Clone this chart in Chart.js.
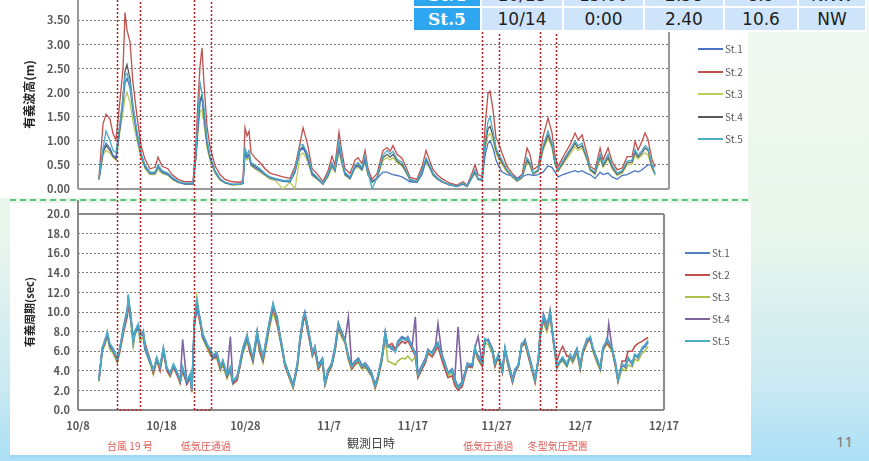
<!DOCTYPE html>
<html lang="ja">
<head>
<meta charset="utf-8">
<title>有義波高・有義周期</title>
<script src="https://cdn.jsdelivr.net/npm/chart.js@4.4.0/dist/chart.umd.min.js"></script>
<style>
  html, body { margin: 0; padding: 0; }
  body {
    width: 869px; height: 461px; position: relative; overflow: hidden;
    background: linear-gradient(180deg, #f1f9f1 0%, #e9f6ec 50%, #cdeaf2 82%, #abdff6 100%);
    font-family: 'Noto Sans CJK JP', 'Noto Sans', sans-serif;
  }
  .panel { position: absolute; background: #fff; }
  #upperPanel { left: 0; top: 0; width: 748px; height: 198px; }
  #lowerPanel { left: 10px; top: 203px; width: 741px; height: 252px; }
  #blueRule { position: absolute; left: 10px; top: 455px; width: 741px; height: 3px; background: #9fd8f5; }
  #greenRule { position: absolute; left: 10px; top: 199px; width: 738px; border-top: 2px dashed #5cc47c; }
  #upperBox { position: absolute; left: 0; top: 0; }
  #lowerBox { position: absolute; left: 0; top: 200px; }
  #tbl { position: absolute; left: 412px; top: -18px; border-collapse: separate; border-spacing: 2px; background: #fff; }
  #tbl td {
    height: 22px; padding: 0; text-align: center; line-height: 22px;
    font-family: 'DejaVu Sans', sans-serif; font-size: 17px; color: #1e1e1e; background: #cde4fa;
  }
  #tbl td.st { background: #2ea6f0; color: #fff; font-family: 'DejaVu Serif', serif; font-weight: bold; }
  .leg-line, .leg-text { position: absolute; }
  .leg-text { font-size: 10px; color: #595959; line-height: 12px; }
  #pageNo { position: absolute; left: 836px; top: 431px; font-family: 'Noto Sans', sans-serif; font-size: 15px; color: #7b7b7b; }
</style>
</head>
<body>
<div class="panel" id="upperPanel"></div>
<div class="panel" id="lowerPanel"></div>
<div id="greenRule"></div>
<div id="blueRule"></div>
<div id="upperBox"><canvas id="upper" width="748" height="200"></canvas></div>
<div id="lowerBox"><canvas id="lower" width="751" height="261"></canvas></div>
<table id="tbl"></table>
<div id="legends"></div>
<div id="pageNo">11</div>

<script>
// 観測点
const stations = ['St.1', 'St.2', 'St.3', 'St.4', 'St.5'];

// x軸 (10/8 からの日数) の目盛ラベル
const xTickLabels = ['10/8', '10/18', '10/28', '11/7', '11/17', '11/27', '12/7', '12/17'];
const upperYTicks = [0, 0.5, 1, 1.5, 2, 2.5, 3, 3.5];
const lowerYTicks = [0, 2, 4, 6, 8, 10, 12, 14, 16, 18, 20];

// 気象イベント (日数)
const eventStart = [4.66, 13.86, 48.27, 55.2];
const eventEnd = [7.41, 15.89, 50.3, 57.1];
const eventLabels = ['台風 19 号', '低気圧通過', '低気圧通過', '冬型気圧配置'];
const eventLabelDays = [6.2, 15.3, 49.0, 57.3];

// 最大値の表 (上端の2行)
const tableRows = [
    ['St.4', '10/13', '15:00', '2.58', '8.9', 'NNW'],
    ['St.5', '10/14', '0:00', '2.40', '10.6', 'NW']
];

// 有義波高 (m)
const waveDays = [
    2.51, 2.99, 3.35, 3.82, 4.18, 4.54, 5.02, 5.38, 5.62, 5.85,
    6.21, 6.57, 7.05, 7.53, 8.00, 8.60, 9.20, 9.56, 10.04, 10.75,
    11.23, 11.95, 12.78, 13.74, 14.10, 14.34, 14.58, 14.81, 15.05, 15.41,
    15.77, 16.37, 16.97, 17.56, 18.40, 19.35, 19.71, 19.95, 20.19, 20.43,
    20.67, 21.27, 21.74, 22.34, 22.94, 23.54, 24.49, 25.33, 25.93, 26.52,
    26.88, 27.24, 27.48, 27.96, 28.55, 29.27, 29.87, 30.35, 30.70, 31.18,
    31.54, 31.90, 32.50, 33.09, 33.45, 33.93, 34.29, 34.65, 35.13, 35.72,
    36.44, 36.92, 37.28, 37.63, 38.11, 38.71, 39.19, 39.67, 40.50, 41.10,
    41.58, 41.94, 42.41, 43.01, 43.61, 44.44, 45.28, 46.00, 46.48, 47.07,
    47.43, 47.79, 48.27, 48.63, 48.98, 49.22, 49.58, 49.94, 50.18, 50.66,
    51.25, 51.85, 52.45, 53.05, 53.64, 54.00, 54.36, 54.96, 55.56, 56.15,
    56.63, 56.99, 57.35, 57.95, 58.78, 59.38, 59.74, 60.22, 60.81, 61.17,
    61.77, 62.37, 62.72, 63.32, 63.80, 64.40, 64.99, 65.59, 66.19, 66.55,
    66.91, 67.38, 67.74, 68.10, 68.58, 68.94
];
const heightSt1 = [
    0.2, 0.8, 0.95, 0.85, 0.7, 0.65, 1.3, 1.8, 2.2, 2.3,
    2.1, 1.6, 1.1, 0.7, 0.45, 0.32, 0.32, 0.45, 0.35, 0.3,
    0.22, 0.14, 0.1, 0.1, 0.7, 1.3, 1.8, 1.9, 1.5, 0.95,
    0.65, 0.35, 0.2, 0.13, 0.09, 0.1, 0.12, 0.75, 0.65, 0.7,
    0.5, 0.42, 0.38, 0.3, 0.23, 0.2, 0.16, 0.15, 0.35, 0.8,
    0.85, 0.72, 0.6, 0.3, 0.22, 0.1, 0.28, 0.5, 0.38, 0.85,
    0.55, 0.3, 0.22, 0.45, 0.48, 0.4, 0.6, 0.3, 0.15, 0.22,
    0.35, 0.35, 0.32, 0.3, 0.28, 0.25, 0.2, 0.15, 0.14, 0.3,
    0.6, 0.48, 0.3, 0.2, 0.14, 0.08, 0.05, 0.1, 0.05, 0.25,
    0.35, 0.2, 0.18, 0.7, 0.95, 1.0, 0.85, 0.6, 0.5, 0.35,
    0.3, 0.28, 0.22, 0.25, 0.3, 0.3, 0.28, 0.3, 0.35, 0.48,
    0.45, 0.35, 0.25, 0.3, 0.35, 0.38, 0.35, 0.38, 0.32, 0.3,
    0.22, 0.35, 0.3, 0.33, 0.25, 0.2, 0.28, 0.3, 0.35, 0.38,
    0.35, 0.4, 0.45, 0.5, 0.5, 0.45
];
const heightSt2 = [
    0.25, 1.35, 1.55, 1.45, 1.15, 1.02, 1.85, 2.5, 3.66, 3.3,
    3.05, 2.2, 1.5, 0.9, 0.62, 0.42, 0.45, 0.66, 0.47, 0.42,
    0.3, 0.2, 0.15, 0.15, 1.0, 1.85, 2.55, 2.93, 2.2, 1.3,
    0.88, 0.48, 0.3, 0.2, 0.15, 0.14, 0.18, 1.27, 1.1, 1.2,
    0.75, 0.62, 0.55, 0.42, 0.33, 0.3, 0.25, 0.22, 0.47, 0.95,
    1.27, 1.05, 0.88, 0.42, 0.32, 0.16, 0.38, 0.68, 0.5, 1.18,
    0.75, 0.42, 0.32, 0.6, 0.65, 0.52, 0.8, 0.42, 0.2, 0.32,
    0.8, 0.86, 0.78, 0.9, 0.72, 0.64, 0.45, 0.24, 0.2, 0.47,
    0.8, 0.62, 0.4, 0.28, 0.2, 0.12, 0.08, 0.15, 0.08, 0.33,
    0.5, 0.3, 0.26, 1.3, 1.98, 2.03, 1.64, 1.05, 0.98, 0.74,
    0.47, 0.33, 0.22, 0.3, 0.85, 0.71, 0.4, 0.47, 1.09, 1.47,
    1.16, 0.67, 0.47, 0.67, 0.92, 1.16, 1.02, 1.12, 0.74, 0.47,
    0.4, 0.85, 0.6, 0.85, 0.57, 0.4, 0.43, 0.67, 0.67, 0.99,
    0.81, 0.99, 1.16, 1.02, 0.6, 0.47
];
const heightSt3 = [
    0.2, 0.7, 0.8, 0.75, 0.65, 0.6, 1.2, 1.6, 1.9, 2.0,
    1.8, 1.4, 1.0, 0.65, 0.42, 0.3, 0.3, 0.4, 0.32, 0.28,
    0.2, 0.13, 0.1, 0.1, 0.65, 1.2, 1.6, 1.65, 1.35, 0.85,
    0.6, 0.33, 0.18, 0.12, 0.08, 0.09, 0.11, 0.7, 0.6, 0.65,
    0.48, 0.4, 0.35, 0.28, 0.2, 0.18, 0, 0.14, 0, 0.7,
    0.75, 0.65, 0.55, 0.28, 0.2, 0.1, 0.25, 0.45, 0.35, 0.75,
    0.5, 0.28, 0.2, 0.42, 0.45, 0.38, 0.55, 0.28, 0.13, 0.2,
    0.6, 0.65, 0.6, 0.65, 0.55, 0.48, 0.34, 0.18, 0.15, 0.36,
    0.55, 0.45, 0.28, 0.19, 0.13, 0.08, 0.05, 0.1, 0.05, 0.22,
    0.32, 0.2, 0.18, 0.85, 1.1, 1.15, 1.0, 0.75, 0.65, 0.5,
    0.35, 0.25, 0.16, 0.22, 0.55, 0.48, 0.3, 0.36, 0.8, 1.05,
    0.85, 0.5, 0.36, 0.52, 0.72, 0.88, 0.8, 0.85, 0.6, 0.38,
    0.3, 0.62, 0.45, 0.62, 0.42, 0.28, 0.32, 0.5, 0.52, 0.7,
    0.62, 0.7, 0.75, 0.7, 0.42, 0.28
];
const heightSt4 = [
    0.2, 0.75, 0.9, 0.8, 0.68, 0.62, 1.3, 1.9, 2.45, 2.58,
    2.3, 1.7, 1.15, 0.72, 0.48, 0.33, 0.34, 0.48, 0.36, 0.31,
    0.23, 0.15, 0.11, 0.11, 0.7, 1.35, 1.85, 1.95, 1.55, 0.95,
    0.65, 0.36, 0.2, 0.13, 0.09, 0.1, 0.12, 0.78, 0.68, 0.72,
    0.52, 0.45, 0.4, 0.3, 0.24, 0.21, 0.17, 0.16, 0.36, 0.82,
    0.88, 0.75, 0.62, 0.32, 0.23, 0.11, 0.3, 0.52, 0.4, 0.9,
    0.58, 0.32, 0.23, 0.47, 0.5, 0.42, 0.62, 0.32, 0.15, 0.23,
    0.65, 0.72, 0.66, 0.72, 0.58, 0.5, 0.36, 0.19, 0.16, 0.38,
    0.62, 0.5, 0.32, 0.21, 0.14, 0.09, 0.06, 0.11, 0.06, 0.26,
    0.36, 0.21, 0.19, 0.9, 1.25, 1.3, 1.1, 0.8, 0.7, 0.55,
    0.38, 0.27, 0.17, 0.24, 0.6, 0.5, 0.32, 0.38, 0.85, 1.12,
    0.9, 0.52, 0.38, 0.55, 0.78, 0.95, 0.85, 0.9, 0.62, 0.4,
    0.32, 0.68, 0.48, 0.66, 0.45, 0.3, 0.35, 0.54, 0.56, 0.76,
    0.66, 0.75, 0.85, 0.8, 0.45, 0.32
];
const heightSt5 = [
    0.22, 0.85, 1.2, 1.0, 0.8, 0.75, 1.4, 1.9, 2.35, 2.4,
    2.2, 1.7, 1.2, 0.75, 0.5, 0.35, 0.35, 0.5, 0.38, 0.33,
    0.25, 0.16, 0.12, 0.12, 0.8, 1.5, 2.2, 2.0, 1.7, 1.05,
    0.7, 0.38, 0.22, 0.14, 0.1, 0.1, 0.14, 0.85, 0.72, 0.8,
    0.55, 0.48, 0.42, 0.32, 0.25, 0.22, 0.18, 0.18, 0.4, 0.9,
    0.92, 0.8, 0.7, 0.35, 0.25, 0.12, 0.32, 0.55, 0.42, 1.0,
    0.6, 0.35, 0.25, 0.5, 0.55, 0.45, 0.7, 0.35, 0, 0.25,
    0.7, 0.8, 0.72, 0.78, 0.62, 0.55, 0.38, 0.2, 0.16, 0.4,
    0.65, 0.52, 0.33, 0.22, 0.15, 0.09, 0.06, 0.12, 0.06, 0.28,
    0.4, 0.22, 0.2, 1.0, 1.4, 1.5, 1.2, 0.85, 0.75, 0.6,
    0.4, 0.28, 0.18, 0.25, 0.65, 0.55, 0.33, 0.4, 0.9, 1.2,
    0.95, 0.55, 0.4, 0.6, 0.82, 1.0, 0.9, 0.95, 0.65, 0.42,
    0.35, 0.72, 0.52, 0.72, 0.5, 0.33, 0.38, 0.58, 0.6, 0.82,
    0.7, 0.8, 0.9, 0.85, 0.5, 0.3
];

// 有義周期 (sec)
const periodDays = [
    2.5, 2.9, 3.2, 3.5, 3.8, 4.2, 4.7, 5.0, 5.4, 5.9,
    6.0, 6.3, 6.6, 6.8, 7.2, 7.4, 7.8, 8.0, 8.6, 9.0,
    9.4, 9.8, 10.2, 10.6, 11.0, 11.4, 11.8, 12.2, 12.5, 13.0,
    13.4, 13.6, 13.9, 14.2, 14.6, 14.9, 15.4, 15.8, 16.1, 16.6,
    17.0, 17.3, 17.8, 18.2, 18.5, 19.0, 19.4, 19.7, 20.2, 20.5,
    20.9, 21.4, 21.7, 22.1, 22.6, 22.9, 23.3, 23.8,
    24.4, 24.7, 25.3, 25.7, 26.2, 26.5, 26.9, 27.1, 27.5, 28.0,
    28.3, 28.7, 29.2, 29.5, 29.9, 30.3, 30.7, 31.1, 31.5, 31.9,
    32.3, 32.7, 33.1, 33.5, 33.9, 34.3, 34.6, 35.1, 35.5, 35.8,
    36.3, 36.7, 37.0, 37.5, 37.9, 38.2, 38.7, 39.1, 39.4, 39.9,
    40.3, 40.6, 41.1, 41.5, 41.8, 42.3, 42.7, 43.0, 43.5, 43.8,
    44.2, 44.7, 45.0, 45.4, 45.9, 46.5,
    47.1, 47.4, 47.8, 48.3, 48.6, 49.0, 49.5, 49.8, 50.2, 50.7,
    51.0, 51.4, 51.9, 52.2, 52.6, 53.0, 53.4, 53.8, 54.2, 54.6,
    55.0, 55.2, 55.6, 56.0, 56.4, 56.8, 57.2, 57.6, 57.9, 58.4,
    58.8, 59.1, 59.6, 60.0, 60.3, 60.8, 61.2, 61.5, 62.0, 62.4,
    62.7, 63.2, 63.4, 63.8, 64.2, 64.5, 65.0, 65.4, 65.7, 66.2,
    66.5, 66.9, 67.4, 67.7, 68.1
];
const periodSt1 = [
    3.2, 6.0, 7.2, 7.6, 6.5, 6.0, 5.4, 6.2, 8.4, 10.4,
    11.2, 9.8, 7.2, 7.8, 8.4, 7.8, 7.6, 6.2, 4.8, 4.2,
    5.0, 4.6, 6.0, 4.2, 3.9, 4.5, 3.8, 3.2, 4.2, 2.8,
    3.5, 2.2, 8.8, 10.2, 9.4, 7.5, 6.5, 6.3, 5.3, 5.6,
    4.6, 4.8, 3.5, 4.1, 2.8, 3.5, 4.8, 6.0, 7.3, 6.7,
    5.1, 7.6, 6.8, 5.2, 7.4, 9.0, 10.6, 9.5,
    6.0, 4.9, 3.5, 2.6, 4.5, 7.0, 9.2, 10.0, 8.3, 5.9,
    6.2, 4.6, 5.3, 2.9, 4.2, 4.5, 6.2, 8.6, 8.0, 7.0,
    5.6, 4.5, 5.0, 5.3, 4.6, 4.5, 4.2, 3.5, 2.6, 3.4,
    5.2, 8.0, 6.6, 6.2, 6.0, 7.0, 7.5, 7.3, 7.2, 6.5,
    5.9, 3.7, 4.6, 5.3, 6.0, 5.9, 6.6, 6.9, 5.6, 4.9,
    3.8, 4.2, 3.2, 2.4, 2.9, 4.5,
    4.5, 6.2, 5.6, 4.9, 7.1, 7.2, 6.3, 4.9, 5.5, 4.2,
    6.2, 4.9, 3.2, 4.2, 4.5, 6.6, 7.2, 5.9, 4.6, 3.2,
    5.2, 7.5, 9.8, 8.8, 9.6, 7.3, 4.6, 4.9, 5.2, 4.5,
    5.5, 5.3, 6.3, 4.6, 6.0, 7.3, 7.3, 6.2, 5.3, 4.2,
    6.2, 7.3, 7.0, 6.2, 4.9, 3.2, 4.5, 4.6, 5.2, 4.9,
    5.5, 5.6, 6.2, 6.4, 6.9
];
const periodSt2 = [
    3.0, 6.2, 6.8, 7.8, 6.6, 6.0, 5.0, 6.0, 7.8, 9.6,
    11.0, 9.2, 7.5, 8.0, 8.2, 8.0, 7.8, 6.8, 5.2, 3.8,
    5.2, 4.0, 6.2, 4.0, 3.5, 4.4, 3.6, 2.8, 4.0, 2.6,
    3.3, 1.9, 8.6, 10.4, 8.8, 7.4, 6.6, 5.8, 5.2, 5.5,
    4.2, 4.9, 3.4, 4.2, 2.7, 3.0, 4.7, 6.1, 7.4, 6.0,
    5.0, 7.9, 6.0, 5.0, 7.5, 8.8, 10.5, 8.8,
    6.2, 4.5, 3.2, 2.3, 4.4, 6.8, 9.0, 9.6, 7.8, 5.5,
    6.0, 4.2, 4.9, 2.6, 3.8, 4.5, 6.0, 8.5, 7.6, 7.0,
    5.2, 4.2, 4.7, 5.0, 4.3, 4.5, 4.2, 3.5, 2.3, 3.1,
    5.1, 7.5, 6.5, 6.8, 6.2, 6.5, 7.0, 6.8, 7.1, 6.2,
    5.5, 3.3, 4.2, 4.8, 5.8, 5.4, 6.0, 6.5, 5.0, 4.2,
    3.3, 3.5, 2.5, 2.0, 2.4, 4.4,
    4.4, 6.2, 5.2, 4.5, 7.0, 7.2, 6.0, 4.5, 5.5, 3.8,
    6.2, 4.5, 2.8, 3.8, 4.5, 6.6, 6.8, 5.5, 4.2, 2.8,
    5.2, 8.0, 9.2, 8.3, 9.8, 7.0, 5.0, 6.0, 6.5, 5.5,
    5.5, 5.0, 6.0, 4.2, 5.8, 6.9, 7.3, 6.2, 5.0, 4.2,
    6.2, 6.9, 6.6, 6.2, 4.5, 3.0, 5.0, 5.0, 6.0, 6.0,
    6.5, 6.8, 7.0, 7.2, 7.4
];
const periodSt3 = [
    2.9, 6.0, 6.6, 7.5, 6.2, 5.8, 4.8, 6.0, 7.7, 9.8,
    11.5, 9.0, 6.5, 7.6, 8.5, 7.0, 7.5, 6.2, 4.8, 3.6,
    5.0, 4.1, 5.8, 4.1, 3.4, 4.3, 3.8, 2.7, 4.1, 2.7,
    3.4, 1.8, 9.0, 11.5, 9.0, 7.3, 6.3, 5.6, 5.3, 5.2,
    4.0, 4.6, 3.2, 4.0, 2.6, 3.1, 4.6, 5.8, 7.0, 6.0,
    4.8, 7.4, 5.9, 4.8, 7.0, 8.5, 10.0, 8.6,
    6.0, 4.6, 3.1, 2.2, 4.3, 6.8, 9.0, 9.5, 7.8, 5.5,
    6.1, 4.1, 4.9, 2.5, 3.8, 4.4, 6.0, 8.3, 7.4, 6.8,
    5.1, 4.1, 4.6, 4.8, 4.2, 4.3, 4.0, 3.4, 2.2, 3.0,
    5.0, 7.4, 5.0, 4.8, 4.6, 5.0, 5.3, 5.2, 5.5, 5.0,
    5.4, 3.3, 4.2, 4.9, 5.8, 5.5, 6.1, 6.6, 5.1, 4.5,
    3.5, 3.8, 2.8, 2.1, 2.6, 4.4,
    4.3, 6.0, 5.1, 4.4, 6.8, 6.7, 5.8, 4.4, 5.3, 3.8,
    6.0, 4.4, 2.8, 3.8, 4.4, 6.5, 6.7, 5.4, 4.1, 2.8,
    5.0, 7.4, 9.0, 8.0, 9.4, 6.8, 4.2, 4.8, 5.0, 4.4,
    5.3, 4.8, 5.8, 4.1, 5.7, 6.8, 7.2, 6.0, 4.8, 4.0,
    6.0, 6.8, 6.5, 6.0, 4.4, 2.8, 4.2, 4.0, 4.6, 4.4,
    5.2, 5.0, 5.8, 6.0, 6.5
];
const periodSt4 = [
    3.1, 6.3, 6.9, 7.8, 6.7, 6.2, 5.0, 6.3, 8.0, 10.0,
    11.6, 9.4, 6.9, 8.0, 8.6, 7.5, 8.0, 6.4, 5.0, 3.9,
    5.3, 4.3, 6.3, 4.3, 3.6, 4.6, 3.9, 2.9, 7.2, 2.9,
    3.6, 2.0, 9.0, 11.0, 9.1, 7.6, 6.7, 6.0, 5.5, 5.8,
    4.3, 5.0, 3.6, 7.5, 2.9, 3.2, 5.0, 6.3, 7.6, 6.3,
    5.3, 8.0, 6.3, 5.3, 7.7, 9.1, 10.8, 9.1,
    6.5, 4.8, 3.4, 2.5, 4.8, 7.2, 9.5, 9.9, 8.2, 5.8,
    6.5, 4.5, 5.2, 2.8, 4.1, 4.8, 6.5, 8.9, 7.9, 7.2,
    9.5, 4.5, 5.0, 5.2, 4.5, 4.8, 4.5, 3.8, 2.5, 3.4,
    5.5, 7.9, 6.5, 6.5, 6.0, 6.9, 7.4, 7.2, 7.5, 6.5,
    9.5, 3.6, 4.5, 5.2, 6.2, 5.8, 6.5, 8.8, 5.5, 4.8,
    3.8, 4.1, 3.1, 8.5, 2.8, 4.8,
    4.6, 6.3, 7.5, 4.6, 7.2, 7.0, 6.1, 4.6, 5.6, 4.1,
    6.3, 4.6, 3.0, 4.0, 4.6, 6.8, 6.9, 5.6, 4.3, 3.0,
    5.3, 7.7, 9.3, 8.4, 10.2, 7.0, 4.3, 5.0, 5.3, 4.6,
    5.6, 5.0, 6.0, 4.3, 6.0, 7.0, 7.4, 6.3, 5.0, 4.3,
    6.3, 7.0, 8.8, 6.3, 4.6, 3.0, 4.6, 4.3, 5.3, 4.6,
    5.6, 5.3, 6.3, 6.5, 7.0
];
const periodSt5 = [
    3.0, 6.4, 7.0, 8.0, 6.8, 6.3, 5.1, 6.4, 8.1, 10.1,
    11.8, 9.5, 6.8, 8.1, 8.8, 7.4, 8.1, 6.5, 5.1, 4.0,
    5.4, 4.4, 6.4, 4.4, 3.7, 4.7, 4.0, 3.0, 4.4, 3.0,
    3.7, 2.0, 9.2, 11.2, 9.2, 7.8, 6.8, 6.1, 5.6, 5.9,
    4.4, 5.1, 3.7, 4.4, 3.0, 3.3, 5.1, 6.4, 7.7, 6.4,
    5.4, 8.1, 6.4, 5.4, 7.8, 9.2, 10.9, 9.2,
    6.4, 4.7, 3.3, 2.4, 4.7, 7.1, 9.5, 9.8, 8.1, 5.7,
    6.4, 4.4, 5.1, 2.7, 4.0, 4.7, 6.4, 8.8, 7.8, 7.1,
    5.4, 4.4, 4.9, 5.1, 4.4, 4.7, 4.4, 3.7, 2.4, 3.3,
    5.4, 7.8, 6.4, 6.4, 5.9, 6.8, 7.3, 7.1, 7.4, 6.4,
    5.7, 3.5, 4.4, 5.1, 6.1, 5.7, 6.4, 6.8, 5.4, 4.7,
    3.7, 4.0, 3.0, 2.2, 2.7, 4.7,
    4.7, 6.4, 5.4, 4.7, 7.3, 7.0, 6.1, 4.7, 5.7, 4.0,
    6.4, 4.7, 3.0, 4.0, 4.7, 6.8, 7.0, 5.7, 4.4, 3.0,
    5.4, 7.8, 9.5, 8.5, 10.0, 7.1, 4.4, 5.1, 5.4, 4.7,
    5.7, 5.1, 6.1, 4.4, 6.1, 7.1, 7.5, 6.4, 5.1, 4.4,
    6.4, 7.1, 6.8, 6.4, 4.7, 3.0, 4.7, 4.4, 5.4, 4.7,
    5.7, 5.4, 6.4, 6.6, 7.1
];

const waveHeights = [heightSt1, heightSt2, heightSt3, heightSt4, heightSt5];
const wavePeriods = [periodSt1, periodSt2, periodSt3, periodSt4, periodSt5];

const upperColors = ['#4a76c0', '#c0504d', '#bccb5a', '#595959', '#4bacc6'];
const lowerColors = ['#4f81bd', '#c0504d', '#a8c24a', '#8064a2', '#4bacc6'];
const drawOrder = [1, 2, 4, 3, 0];

Chart.defaults.font.family = "'Noto Sans CJK JP', 'Noto Sans', sans-serif";

// 表
const tbl = document.getElementById('tbl');
const colWidths = [66, 80, 79, 78, 72, 66];
tableRows.forEach(row => {
    const tr = document.createElement('tr');
    row.forEach((txt, i) => {
        const td = document.createElement('td');
        td.textContent = txt;
        td.style.width = colWidths[i] + 'px';
        if (i === 0) td.className = 'st';
        tr.appendChild(td);
    });
    tbl.appendChild(tr);
});

// 凡例
function buildLegend(lineLeft, firstY, step, colors) {
    const box = document.getElementById('legends');
    stations.forEach((name, i) => {
        const y = firstY + i * step;
        const line = document.createElement('div');
        line.className = 'leg-line';
        line.style.cssText = `left:${lineLeft}px;top:${y - 1}px;width:25px;height:2px;background:${colors[i]};`;
        const text = document.createElement('div');
        text.className = 'leg-text';
        text.style.cssText = `left:${lineLeft + 27}px;top:${y - 6}px;`;
        text.textContent = name;
        box.appendChild(line);
        box.appendChild(text);
    });
}
buildLegend(698, 49, 22.5, upperColors);
buildLegend(685, 253, 22, lowerColors);

// 枠線
const framePlugin = {
    id: 'frame',
    beforeDatasetsDraw(chart, args, opts) {
        const {ctx, chartArea: a} = chart;
        ctx.save();
        ctx.strokeStyle = opts.color;
        ctx.lineWidth = opts.width;
        ctx.beginPath();
        if (opts.sides.includes('top')) { ctx.moveTo(a.left, a.top); ctx.lineTo(a.right, a.top); }
        if (opts.sides.includes('left')) { ctx.moveTo(a.left, 0); ctx.lineTo(a.left, a.bottom); }
        if (opts.sides.includes('right')) { ctx.moveTo(a.right, opts.rightTop); ctx.lineTo(a.right, a.bottom); }
        if (opts.sides.includes('bottom')) { ctx.moveTo(a.left, a.bottom); ctx.lineTo(a.right, a.bottom); }
        ctx.stroke();
        ctx.restore();
    }
};

// 気象イベントの赤い点線枠
const eventPlugin = {
    id: 'events',
    afterDatasetsDraw(chart, args, opts) {
        const {ctx, chartArea: a} = chart;
        const x = chart.scales.x;
        const bottom = opts.closed ? a.bottom : chart.height;
        ctx.save();
        ctx.strokeStyle = '#b81c1c';
        ctx.lineWidth = 1.5;
        ctx.setLineDash([2, 2]);
        eventStart.forEach((s, i) => {
            const x1 = Math.round(x.getPixelForValue(s)) + 0.5;
            const x2 = Math.round(x.getPixelForValue(eventEnd[i])) + 0.5;
            ctx.beginPath();
            ctx.moveTo(x1, 0);
            ctx.lineTo(x1, bottom);
            if (opts.closed) ctx.lineTo(x2, bottom); else ctx.moveTo(x2, bottom);
            ctx.lineTo(x2, 0);
            ctx.stroke();
        });
        if (opts.closed) {
            ctx.setLineDash([]);
            ctx.fillStyle = '#e0605a';
            ctx.font = "10px 'Noto Sans CJK JP'";
            ctx.textAlign = 'center';
            ctx.textBaseline = 'middle';
            eventLabels.forEach((t, i) => {
                ctx.fillText(t, x.getPixelForValue(eventLabelDays[i]), opts.labelY);
            });
        }
        ctx.restore();
    }
};

const tickFont = {size: 11, weight: 'bold'};

function makeDatasets(days, series, colors, width) {
    return stations.map((name, i) => ({
        label: name,
        data: days.map((d, j) => ({x: d, y: series[i][j]})),
        borderColor: colors[i],
        borderWidth: width,
        pointRadius: 0,
        tension: 0,
        order: drawOrder[i]
    }));
}

// 有義波高
new Chart(document.getElementById('upper'), {
    type: 'line',
    data: {datasets: makeDatasets(waveDays, waveHeights, upperColors, 1.3)},
    options: {
        responsive: false,
        animation: false,
        layout: {padding: {left: 0, top: 0, right: 79, bottom: 0}},
        plugins: {
            legend: {display: false},
            tooltip: {enabled: false},
            frame: {sides: ['left', 'bottom', 'right'], color: '#9a9a9a', width: 2, rightTop: 30},
            events: {closed: false}
        },
        scales: {
            x: {
                type: 'linear', min: 0, max: 70.6,
                ticks: {display: false},
                grid: {display: false},
                border: {display: false},
                afterFit(s) { s.height = 11; s.paddingLeft = 0; s.paddingRight = 0; }
            },
            y: {
                min: 0, max: 3.92,
                afterBuildTicks(s) { s.ticks = upperYTicks.map(v => ({value: v})); },
                afterFit(s) { s.width = 78; s.paddingTop = 0; s.paddingBottom = 0; },
                ticks: {padding: 8, color: '#595959', font: tickFont, callback: v => v.toFixed(2)},
                grid: {drawTicks: false, lineWidth: 1, color: c => (c.tick && c.tick.value > 0) ? '#7a7a7a' : 'rgba(0,0,0,0)'},
                border: {display: false, dash: [2, 2]},
                title: {display: true, text: '有義波高(m)', color: '#262626', font: {size: 12, weight: 'bold'}, padding: {top: 22, bottom: 0}}
            }
        }
    },
    plugins: [framePlugin, eventPlugin]
});

// 有義周期
new Chart(document.getElementById('lower'), {
    type: 'line',
    data: {datasets: makeDatasets(periodDays, wavePeriods, lowerColors, 1.6)},
    options: {
        responsive: false,
        animation: false,
        layout: {padding: {left: 0, top: 14, right: 87, bottom: 0}},
        plugins: {
            legend: {display: false},
            tooltip: {enabled: false},
            frame: {sides: ['top', 'left', 'bottom', 'right'], color: '#8a8a8a', width: 2, rightTop: 14},
            events: {closed: true, labelY: 246}
        },
        scales: {
            x: {
                type: 'linear', min: 0, max: 70,
                afterBuildTicks(s) { s.ticks = xTickLabels.map((l, i) => ({value: i * 10})); },
                afterFit(s) { s.height = 51; s.paddingLeft = 0; s.paddingRight = 0; },
                ticks: {padding: 1, color: '#595959', font: tickFont, maxRotation: 0, autoSkip: false,
                        callback: (v, i) => xTickLabels[i]},
                grid: {display: false},
                border: {display: false},
                title: {display: true, text: '観測日時', color: '#404040', font: {size: 12}, padding: {top: 0, bottom: 10}}
            },
            y: {
                min: 0, max: 20,
                afterBuildTicks(s) { s.ticks = lowerYTicks.map(v => ({value: v})); },
                afterFit(s) { s.width = 78; s.paddingTop = 0; s.paddingBottom = 0; },
                ticks: {padding: 8, color: '#595959', font: tickFont, callback: v => v.toFixed(1)},
                grid: {drawTicks: false, lineWidth: 1, color: c => (c.tick && c.tick.value > 0 && c.tick.value < 20) ? '#7a7a7a' : 'rgba(0,0,0,0)'},
                border: {display: false, dash: [2, 2]},
                title: {display: true, text: '有義周期(sec)', color: '#262626', font: {size: 11, weight: 'bold'}, padding: {top: 23, bottom: 0}}
            }
        }
    },
    plugins: [framePlugin, eventPlugin]
});
</script>
</body>
</html>
